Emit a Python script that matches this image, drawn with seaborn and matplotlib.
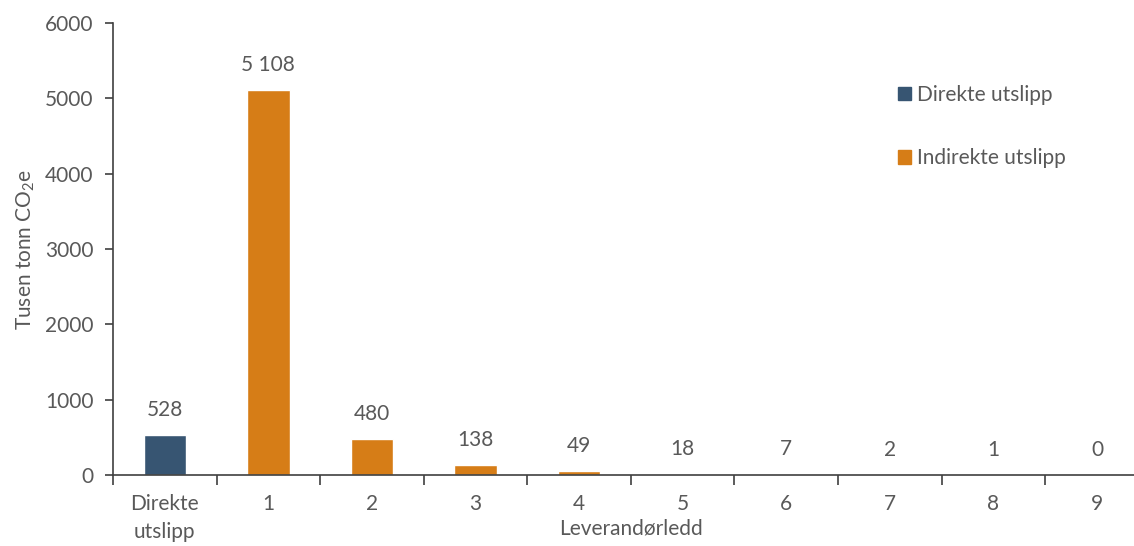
import pandas as pd
import matplotlib
matplotlib.use("Agg")
import matplotlib.pyplot as plt
import seaborn as sns
from matplotlib.patches import Patch

# data
categories = ["Direkte\nutslipp", "1", "2", "3", "4", "5", "6", "7", "8", "9"]
values = [528, 5108, 480, 138, 49, 18, 7, 2, 1, 0]
kind = ["Direkte utslipp"] + ["Indirekte utslipp"] * 9
value_labels = ["528", "5 108", "480", "138", "49", "18", "7", "2", "1", "0"]
y_ticks = [0, 1000, 2000, 3000, 4000, 5000, 6000]

colors = {"Direkte utslipp": "#375572", "Indirekte utslipp": "#D67D17"}
text_color = "#595959"
fs = 15

sns.set_style("white")
plt.rcParams["font.family"] = ["Lato", "DejaVu Sans"]
plt.rcParams["mathtext.fontset"] = "custom"
plt.rcParams["mathtext.rm"] = "Lato"
plt.rcParams["mathtext.it"] = "Lato"

df = pd.DataFrame({
    "ledd": categories,
    "verdi": values,
    "type": kind
})

fig = plt.figure(figsize=(11.34, 5.46), dpi=100)
ax = fig.add_axes([0.0996, 0.130, 0.9134, 0.828])

sns.barplot(
    data=df,
    x="ledd",
    y="verdi",
    hue="type",
    palette=colors,
    dodge=False,
    width=0.41,
    saturation=1,
    legend=False,
    ax=ax
)

for i, (v, lab) in enumerate(zip(values, value_labels)):
    ax.text(
        i, v + 200, lab,
        ha="center", va="bottom",
        fontsize=fs, color=text_color
    )

ax.set_xlim(-0.5, 9.5)
ax.set_ylim(0, 6000)
ax.set_yticks(y_ticks)

for side in ["top", "right"]:
    ax.spines[side].set_visible(False)
for side in ["left", "bottom"]:
    ax.spines[side].set_color("#404040")
    ax.spines[side].set_linewidth(1.2)

# ticks between categories on the x axis
ax.set_xticks(range(len(categories)))
ax.set_xticklabels(categories, linespacing=1.5)
ax.set_xticks([i - 0.5 for i in range(len(categories) + 1)], minor=True)
ax.tick_params(axis="x", which="major", length=0, pad=14,
               labelsize=fs, labelcolor=text_color)
ax.tick_params(axis="x", which="minor", length=7, width=1.2,
               color="#404040", direction="out", bottom=True)
ax.tick_params(axis="y", length=6, width=1.2, color="#404040",
               direction="out", left=True, labelsize=fs,
               labelcolor=text_color, pad=8)

ax.set_xlabel("Leverandørledd", fontsize=fs, color=text_color, labelpad=-17)
ax.set_ylabel("Tusen tonn CO$_2$e", fontsize=fs, color=text_color, labelpad=6)

handles = [Patch(color=colors[k]) for k in colors]
ax.legend(
    handles, list(colors.keys()),
    loc="upper left",
    bbox_to_anchor=(0.74, 0.905),
    frameon=False,
    fontsize=fs,
    labelcolor=text_color,
    handlelength=0.6,
    handleheight=0.6,
    handletextpad=0.3,
    labelspacing=2.1
)

fig.savefig("out.png", dpi=100)
